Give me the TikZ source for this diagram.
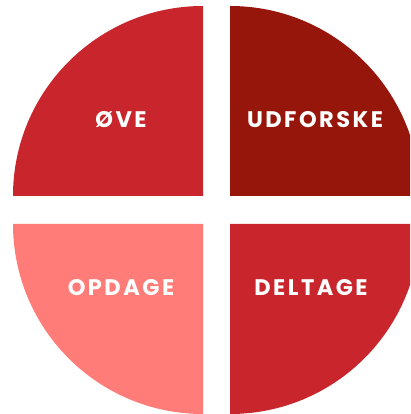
\documentclass[tikz,border=0pt]{standalone}
\usepackage{fontspec}
\setmainfont{Poppins}[LetterSpace=11]
\definecolor{crimson}{HTML}{C9252C}
\definecolor{darkred}{HTML}{97160B}
\definecolor{salmon}{HTML}{FF7C78}
\begin{document}
\begin{tikzpicture}[x=1pt,y=1pt,
  lbl/.style={text=white,font=\fontsize{22.5}{27}\selectfont\bfseries,inner sep=0pt,anchor=base}]
\useasboundingbox (0,0) rectangle (410,414);
\clip (0,0) rectangle (410,414);
\def\R{190}
% four quarter discs with a white cross gap between them
\fill[crimson] (203,218) -- (13,218) arc[start angle=180,end angle=90,radius=\R] -- cycle;
\fill[darkred] (230,218) -- (230,408) arc[start angle=90,end angle=0,radius=\R] -- cycle;
\fill[salmon]  (203,190) -- (13,190) arc[start angle=180,end angle=270,radius=\R] -- cycle;
\fill[crimson] (230,190) -- (230,0) arc[start angle=270,end angle=360,radius=\R] -- cycle;
% labels
\node[lbl] (ove) at (121,286) {ØVE};
\node[lbl] (udforske) at (315,286) {UDFORSKE};
\node[lbl] (opdage) at (121,118) {OPDAGE};
\node[lbl] (deltage) at (311,118) {DELTAGE};
\end{tikzpicture}
\end{document}
